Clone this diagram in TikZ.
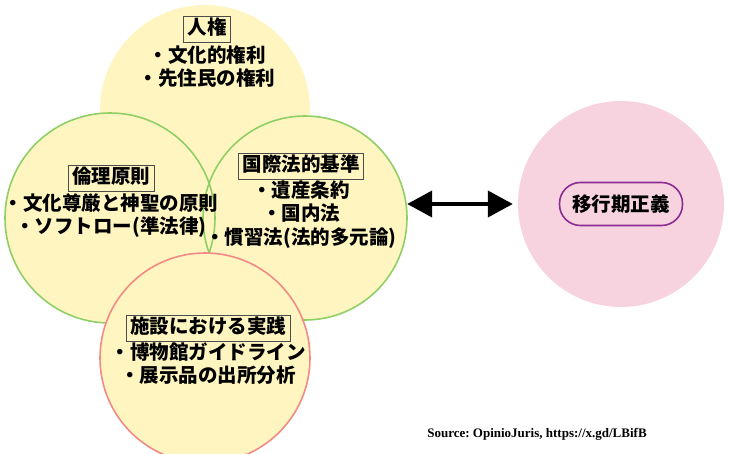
\documentclass[tikz,border=0pt]{standalone}
\usepackage{fontspec}
\setmainfont{Liberation Serif}
\newfontfamily\jpfont{Noto Sans CJK JP}
\usetikzlibrary{positioning,arrows.meta}
\frenchspacing
\definecolor{amarillo}{HTML}{FFF5C0}
\definecolor{verde}{HTML}{8FCF66}
\definecolor{rojo}{HTML}{F28A86}
\definecolor{rosa}{HTML}{F7D3E0}
\definecolor{morado}{HTML}{8B2C93}
\tikzset{
	burbuja/.style={circle, fill=amarillo, minimum size=210bp, inner sep=0pt},
	anillo/.style={line width=1.6bp},
	encabezado/.style={rectangle, draw=black!70, line width=0.8bp, 
		font=\jpfont\bfseries\fontsize{19.5bp}{22bp}\selectfont, 
		text height=15bp, text depth=4bp, inner xsep=4bp, inner ysep=3.5bp},
	punto/.style={rectangle, font=\jpfont\bfseries\fontsize{19.5bp}{22bp}\selectfont, 
		text height=15bp, text depth=4bp, inner sep=1bp},
	meta/.style={rectangle, rounded corners=21bp, draw=morado, line width=1.6bp, 
		font=\jpfont\bfseries\fontsize{19.5bp}{22bp}\selectfont, 
		minimum width=123bp, minimum height=43bp},
	flecha/.style={line width=4bp, {Triangle[length=25bp,width=26bp]}-{Triangle[length=25bp,width=26bp]}}
}
\begin{document}
\begin{tikzpicture}[x=1bp, y=-1bp, node distance=2bp]
			\useasboundingbox (0,0) rectangle (729,454);
			
			% circulos
			\node[burbuja] (derechos) at (205,110) {};
			\node[burbuja] (etica) at (110,218) {};
			\node[burbuja, minimum size=204bp] (ley) at (305,218) {};
			\draw[anillo, verde] (etica.center) circle[radius=105bp];
			\draw[anillo, verde] (ley.center) circle[radius=102bp];
			\node[burbuja, draw=rojo, anillo] (practica) at (205,358) {};
			\node[circle, fill=rosa, minimum size=206bp, inner sep=0pt] (justicia) at (621,204) {};
			
			% textos
			\node[encabezado] (t1) at (207,29) {人権};
			\node[punto, below=4bp of t1] (d1) {・文化的権利};
			\node[punto, below=of d1] (d2) {・先住民の権利};
			
			\node[encabezado] (t2) at (111,178) {倫理原則};
			\node[punto, below=3bp of t2] (e1) {・文化尊厳と神聖の原則};
			\node[punto, below=of e1] (e2) {・ソフトロー(準法律)};
			
			\node[encabezado] (t3) at (301,166) {国際法的基準};
			\node[punto, below=2bp of t3] (l1) {・遺産条約};
			\node[punto, below=of l1] (l2) {・国内法};
			\node[punto, below=of l2] (l3) {・慣習法(法的多元論)};
			
			\node[encabezado] (t4) at (208,328) {施設における実践};
			\node[punto, below=2bp of t4] (p1) {・博物館ガイドライン};
			\node[punto, below=of p1] (p2) {・展示品の出所分析};
			
			\node[meta] (tj) at (justicia.center) {移行期正義};
			\draw[flecha] (ley.east |- justicia.center) -- ([xshift=-5bp]justicia.west);
			
			\node[font=\bfseries\fontsize{13bp}{15bp}\selectfont] (fuente) at (537,434) {Source: OpinioJuris, https://x.gd/LBifB};
		\end{tikzpicture}
\end{document}
